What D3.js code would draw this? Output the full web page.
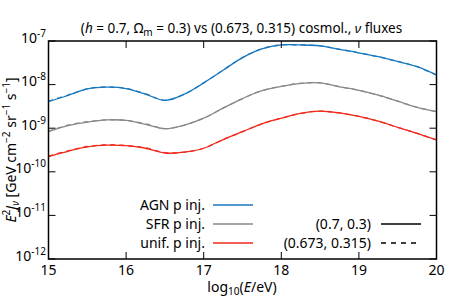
<!DOCTYPE html>
<html>
<head>
<meta charset="utf-8">
<script src="https://cdn.jsdelivr.net/npm/d3@7"></script>
<style>
  body { margin: 0; background: #fff; }
  svg { font-family: "Noto Sans", sans-serif; }
</style>
</head>
<body>
<div id="chart"></div>
<script>
// log10(E/eV) sample points
var logE = [15.0, 15.25, 15.5, 15.75, 16.0, 16.25, 16.5, 16.75, 17.0, 17.25, 17.5,
            17.75, 18.0, 18.25, 18.5, 18.75, 19.0, 19.25, 19.5, 19.75, 20.0];

// log10 of E^2 J, (h=0.7, Om=0.3)
var agn = [-8.39, -8.25, -8.10, -8.06, -8.09, -8.22, -8.36, -8.22, -7.96, -7.67, -7.38,
           -7.18, -7.09, -7.09, -7.11, -7.19, -7.27, -7.36, -7.47, -7.59, -7.78];
var sfr = [-9.08, -8.94, -8.86, -8.81, -8.82, -8.91, -9.01, -8.93, -8.77, -8.54, -8.32,
           -8.14, -8.04, -7.97, -7.96, -8.05, -8.13, -8.24, -8.38, -8.52, -8.62];
var unif = [-9.65, -9.53, -9.43, -9.39, -9.40, -9.46, -9.57, -9.55, -9.46, -9.26, -9.08,
            -8.90, -8.77, -8.66, -8.61, -8.65, -8.73, -8.84, -8.98, -9.12, -9.27];

// (0.673, 0.315) cosmology
var agn2 = [-8.38, -8.24, -8.10, -8.05, -8.09, -8.21, -8.36, -8.22, -7.96, -7.67, -7.38,
            -7.18, -7.09, -7.09, -7.11, -7.19, -7.27, -7.36, -7.47, -7.59, -7.78];
var sfr2 = [-9.07, -8.93, -8.85, -8.81, -8.82, -8.90, -9.01, -8.93, -8.77, -8.54, -8.32,
            -8.14, -8.04, -7.97, -7.96, -8.05, -8.13, -8.24, -8.38, -8.52, -8.62];
var unif2 = [-9.64, -9.52, -9.42, -9.38, -9.40, -9.45, -9.56, -9.55, -9.46, -9.26, -9.08,
             -8.90, -8.77, -8.66, -8.61, -8.65, -8.73, -8.84, -8.98, -9.12, -9.27];

var seriesNames = ["AGN p inj.", "SFR p inj.", "unif. p inj."];
var cosmoNames = ["(0.7, 0.3)", "(0.673, 0.315)"];
var xTicks = [15, 16, 17, 18, 19, 20];
var yExps = [-7, -8, -9, -10, -11, -12];

var colors = ["#1878be", "#888888", "#f02a1c"];

(function() {
var W = 450, H = 300;
var pl = 48.5, pr = 436.5, pt = 41, pb = 259;
var fs = 14, fsSmall = 10;

var x = d3.scaleLinear().domain([15, 20]).range([pl, pr]);
var y = d3.scaleLog().domain([1e-12, 1e-7]).range([pb, pt]);

var svg = d3.select("#chart").append("svg")
    .attr("width", W).attr("height", H);

svg.append("defs").append("clipPath").attr("id", "clip")
    .append("rect").attr("x", pl).attr("y", pt)
    .attr("width", pr - pl).attr("height", pb - pt);

var line = d3.line()
    .x(function(d) { return x(d.x); })
    .y(function(d) { return y(Math.pow(10, d.y)); })
    .curve(d3.curveCatmullRom.alpha(0.5));

function pts(vals) {
    return vals.map(function(v, i) { return {x: logE[i], y: v}; });
}

var solid = [agn, sfr, unif];
var dashed = [agn2, sfr2, unif2];

var plot = svg.append("g").attr("clip-path", "url(#clip)");
solid.forEach(function(s, i) {
    plot.append("path").attr("d", line(pts(s)))
        .attr("fill", "none").attr("stroke", colors[i]).attr("stroke-width", 1.3);
});
dashed.forEach(function(s, i) {
    plot.append("path").attr("d", line(pts(s)))
        .attr("fill", "none").attr("stroke", colors[i]).attr("stroke-width", 1.3)
        .attr("stroke-dasharray", "5,4");
});

// frame
svg.append("rect").attr("x", pl).attr("y", pt)
    .attr("width", pr - pl).attr("height", pb - pt)
    .attr("fill", "none").attr("stroke", "#000").attr("stroke-width", 1.5);

// x ticks (inward, top and bottom)
var ax = svg.append("g").attr("stroke", "#000").attr("stroke-width", 1);
xTicks.forEach(function(t) {
    ax.append("line").attr("x1", x(t)).attr("x2", x(t)).attr("y1", pb).attr("y2", pb - 7);
    ax.append("line").attr("x1", x(t)).attr("x2", x(t)).attr("y1", pt).attr("y2", pt + 7);
});
svg.selectAll(".xl").data(xTicks).enter().append("text")
    .attr("x", function(d) { return x(d); }).attr("y", 275)
    .attr("text-anchor", "middle").attr("font-size", fs).text(function(d) { return d; });

// y ticks, major + log minor
yExps.forEach(function(e) {
    var v = Math.pow(10, e);
    ax.append("line").attr("x1", pl).attr("x2", pl + 7).attr("y1", y(v)).attr("y2", y(v));
    ax.append("line").attr("x1", pr).attr("x2", pr - 7).attr("y1", y(v)).attr("y2", y(v));
    if (e > -7) {
        for (var k = 2; k <= 9; k++) {
            var m = k * v;
            ax.append("line").attr("x1", pl).attr("x2", pl + 3.5).attr("y1", y(m)).attr("y2", y(m));
            ax.append("line").attr("x1", pr).attr("x2", pr - 3.5).attr("y1", y(m)).attr("y2", y(m));
        }
    }
});
yExps.forEach(function(e) {
    var t = svg.append("text").attr("x", 46).attr("y", y(Math.pow(10, e)) + 1.5)
        .attr("text-anchor", "end").attr("font-size", fs);
    t.append("tspan").text("10");
    t.append("tspan").attr("dy", -6).attr("font-size", fsSmall).text(String(e));
});

// title
var title = svg.append("text").attr("x", 241.5).attr("y", 33)
    .attr("text-anchor", "middle").attr("font-size", 13.5);
title.append("tspan").text("(");
title.append("tspan").attr("font-style", "italic").text("h");
title.append("tspan").text(" = 0.7, Ω");
title.append("tspan").attr("font-size", fsSmall).attr("dy", 3).text("m");
title.append("tspan").attr("dy", -3).text(" = 0.3) vs (0.673, 0.315) cosmol., ");
title.append("tspan").attr("font-style", "italic").text("ν");
title.append("tspan").text(" fluxes");

// x label
var xl = svg.append("text").attr("x", 242).attr("y", 292)
    .attr("text-anchor", "middle").attr("font-size", fs);
xl.append("tspan").text("log");
xl.append("tspan").attr("font-size", fsSmall).attr("dy", 3).text("10");
xl.append("tspan").attr("dy", -3).text("(");
xl.append("tspan").attr("font-style", "italic").text("E");
xl.append("tspan").text("/eV)");

// y label
var yl = svg.append("text").attr("transform", "translate(16,150) rotate(-90)")
    .attr("text-anchor", "middle").attr("font-size", fs);
yl.append("tspan").attr("font-style", "italic").text("E");
yl.append("tspan").attr("font-size", fsSmall).attr("dy", -6).text("2");
yl.append("tspan").attr("dy", 6).attr("font-style", "italic").text("J");
yl.append("tspan").attr("font-size", fsSmall).attr("dy", 3).attr("font-style", "italic").text("ν");
yl.append("tspan").attr("dy", -3).text(" [GeV cm");
yl.append("tspan").attr("font-size", fsSmall).attr("dy", -6).text("−2");
yl.append("tspan").attr("dy", 6).text(" sr");
yl.append("tspan").attr("font-size", fsSmall).attr("dy", -6).text("−1");
yl.append("tspan").attr("dy", 6).text(" s");
yl.append("tspan").attr("font-size", fsSmall).attr("dy", -6).text("−1");
yl.append("tspan").attr("dy", 6).text("]");

// legend: sources
var legY = [205, 224, 243];
seriesNames.forEach(function(n, i) {
    svg.append("text").attr("x", 205).attr("y", legY[i] + 5)
        .attr("text-anchor", "end").attr("font-size", fs).text(n);
    svg.append("line").attr("x1", 213).attr("x2", 253).attr("y1", legY[i]).attr("y2", legY[i])
        .attr("stroke", colors[i]).attr("stroke-width", 1.3);
});
// legend: cosmology
cosmoNames.forEach(function(n, i) {
    svg.append("text").attr("x", 371).attr("y", legY[i + 1] + 5)
        .attr("text-anchor", "end").attr("font-size", fs).text(n);
    svg.append("line").attr("x1", 381).attr("x2", 421).attr("y1", legY[i + 1]).attr("y2", legY[i + 1])
        .attr("stroke", "#000").attr("stroke-width", 1.3)
        .attr("stroke-dasharray", i == 1 ? "5,5" : null);
});
})();
</script>
</body>
</html>
